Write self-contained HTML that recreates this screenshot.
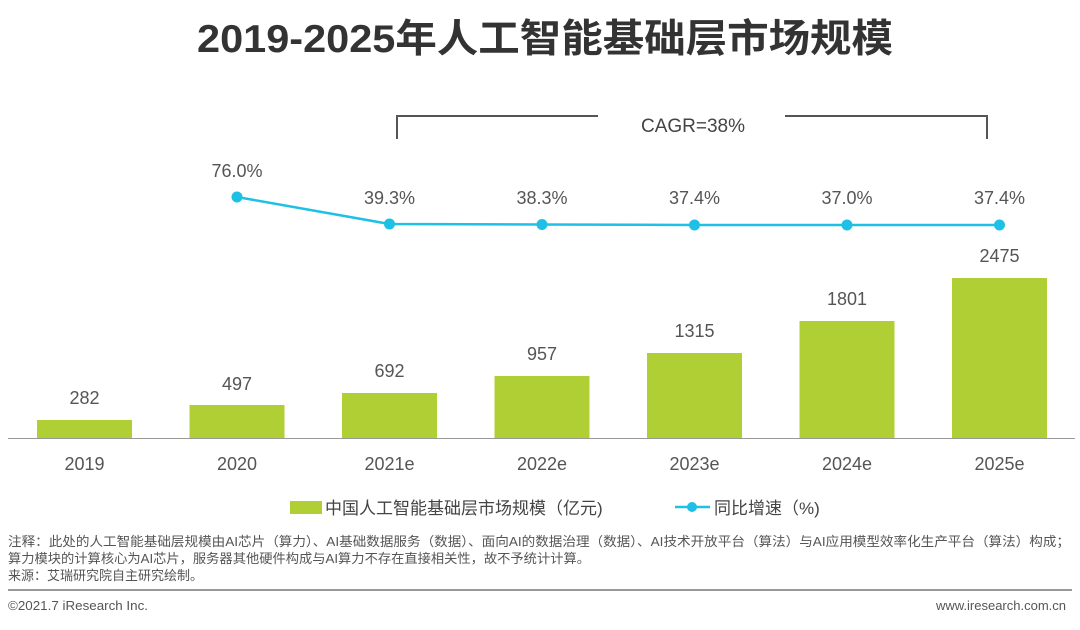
<!DOCTYPE html>
<html><head><meta charset="utf-8"><style>
body{margin:0;width:1080px;height:625px;background:#fff;overflow:hidden;font-family:"Liberation Sans","Noto Sans CJK SC",sans-serif;}
svg text{font-family:"Liberation Sans","Noto Sans CJK SC",sans-serif;}
</style></head><body>
<svg width="1080" height="625" viewBox="0 0 1080 625">
<text x="197" y="52" font-size="39" font-weight="bold" fill="#333" textLength="696" lengthAdjust="spacingAndGlyphs">2019-2025年人工智能基础层市场规模</text>
<g stroke="#555" stroke-width="2" fill="none">
<polyline points="397,139 397,116 598,116"/>
<polyline points="785,116 987,116 987,139"/>
</g>
<text x="693" y="132" text-anchor="middle" font-size="19" fill="#444">CAGR=38%</text>
<g fill="#b0cf34">
<rect x="37" y="420" width="95" height="18"/>
<rect x="189.5" y="405" width="95" height="33"/>
<rect x="342" y="393" width="95" height="45"/>
<rect x="494.5" y="376" width="95" height="62"/>
<rect x="647" y="353" width="95" height="85"/>
<rect x="799.5" y="321" width="95" height="117"/>
<rect x="952" y="278" width="95" height="160"/>
</g>
<line x1="8" y1="438.5" x2="1075" y2="438.5" stroke="#999" stroke-width="1"/>
<g font-size="18" fill="#555" text-anchor="middle">
<text x="84.5" y="404">282</text><text x="237" y="390">497</text><text x="389.5" y="377">692</text>
<text x="542" y="360">957</text><text x="694.5" y="337">1315</text><text x="847" y="305">1801</text><text x="999.5" y="262">2475</text>
<text x="84.5" y="470">2019</text><text x="237" y="470">2020</text><text x="389.5" y="470">2021e</text>
<text x="542" y="470">2022e</text><text x="694.5" y="470">2023e</text><text x="847" y="470">2024e</text><text x="999.5" y="470">2025e</text>
<text x="237" y="177">76.0%</text><text x="389.5" y="204">39.3%</text><text x="542" y="204">38.3%</text>
<text x="694.5" y="204">37.4%</text><text x="847" y="204">37.0%</text><text x="999.5" y="204">37.4%</text>
</g>
<polyline points="237,197 389.5,224 542,224.5 694.5,225 847,225 999.5,225" stroke="#1fc0e6" stroke-width="2.5" fill="none"/>
<g fill="#1fc0e6">
<circle cx="237" cy="197" r="5.5"/><circle cx="389.5" cy="224" r="5.5"/><circle cx="542" cy="224.5" r="5.5"/>
<circle cx="694.5" cy="225" r="5.5"/><circle cx="847" cy="225" r="5.5"/><circle cx="999.5" cy="225" r="5.5"/>
</g>
<rect x="290" y="501" width="32" height="13" fill="#b0cf34"/>
<text x="325" y="514" font-size="17" fill="#444">中国人工智能基础层市场规模（亿元)</text>
<line x1="675" y1="507" x2="710" y2="507" stroke="#1fc0e6" stroke-width="2.5"/>
<circle cx="692" cy="507" r="5" fill="#1fc0e6"/>
<text x="714" y="514" font-size="17" fill="#444">同比增速（%)</text>
<g font-size="13" fill="#555">
<text x="8" y="546" textLength="1062" lengthAdjust="spacingAndGlyphs">注释：此处的人工智能基础层规模由AI芯片（算力）、AI基础数据服务（数据）、面向AI的数据治理（数据）、AI技术开放平台（算法）与AI应用模型效率化生产平台（算法）构成；</text>
<text x="8" y="563" textLength="582" lengthAdjust="spacingAndGlyphs">算力模块的计算核心为AI芯片，服务器其他硬件构成与AI算力不存在直接相关性，故不予统计计算。</text>
<text x="8" y="580" textLength="195" lengthAdjust="spacingAndGlyphs">来源：艾瑞研究院自主研究绘制。</text>
</g>
<line x1="8" y1="590" x2="1072" y2="590" stroke="#777" stroke-width="1.5"/>
<text x="8" y="610" font-size="13" fill="#555" textLength="140" lengthAdjust="spacingAndGlyphs">©2021.7 iResearch Inc.</text>
<text x="1066" y="610" font-size="13" fill="#555" text-anchor="end">www.iresearch.com.cn</text>
</svg>
</body></html>
